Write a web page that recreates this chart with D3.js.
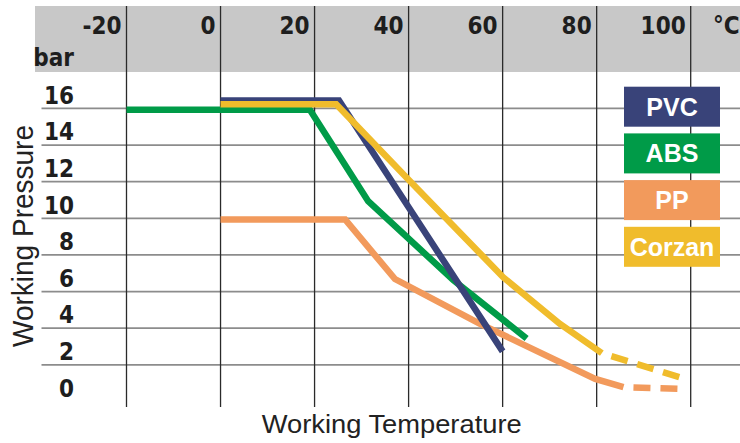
<!DOCTYPE html>
<html>
<head>
<meta charset="utf-8">
<script src="https://cdn.jsdelivr.net/npm/d3@7"></script>
<style>
  body { margin: 0; background: #fff; }
</style>
</head>
<body>
<div id="chart"></div>
<script>
// tick values
const tempTicks = [-20, 0, 20, 40, 60, 80, 100];
const pressureTicks = [0, 2, 4, 6, 8, 10, 12, 14, 16];
const gridPressure = [2, 4, 6, 8, 10, 12, 14, 16];

// series (temperature in °C, pressure in bar)
const pvcTemp = [0, 25.2, 60];
const pvcBar = [15.7, 15.7, 2.0];
const absTemp = [-20, 19, 31.4, 49.5, 65.1];
const absBar = [15.2, 15.2, 10.2, 5.9, 2.7];
const ppTemp = [0, 26.5, 37.1, 55.2, 79.7, 85.7];
const ppBar = [9.2, 9.2, 5.95, 3.5, 0.5, 0.05];
const ppDashTemp = [85.7, 97.8];
const ppDashBar = [0.05, -0.05];
const corzanTemp = [0, 24.6, 40.1, 60.1, 72.2, 81.1];
const corzanBar = [15.5, 15.5, 11.35, 6.05, 3.5, 1.9];
const corzanDashTemp = [81.1, 98.1];
const corzanDashBar = [1.9, 0.55];

const legendNames = ["PVC", "ABS", "PP", "Corzan"];
const colors = { PVC: "#394379", ABS: "#009b48", PP: "#f29a5c", Corzan: "#f0bc2c" };

const W = 740, H = 443;
const svg = d3.select("#chart").append("svg")
    .attr("width", W).attr("height", H);

const x = d3.scaleLinear().domain([-20, 100]).range([126.5, 690.7]);
const y = d3.scaleLinear().domain([0, 16]).range([388, 95]);
const gridShift = 13.4;   // grid lines sit below each label

// grey header band
svg.append("rect")
    .attr("x", 35).attr("y", 6)
    .attr("width", W - 35).attr("height", 66)
    .attr("fill", "#c8c8c8");

// horizontal grid
svg.append("g").selectAll("line")
    .data(gridPressure)
    .join("line")
    .attr("x1", 41.5).attr("x2", W)
    .attr("y1", d => y(d) + gridShift)
    .attr("y2", d => y(d) + gridShift)
    .attr("stroke", "#8c8c8c")
    .attr("stroke-width", 1.8);

// vertical grid
svg.append("g").selectAll("line")
    .data(tempTicks)
    .join("line")
    .attr("x1", d => x(d)).attr("x2", d => x(d))
    .attr("y1", 6).attr("y2", 407)
    .attr("stroke", "#2a2a2a")
    .attr("stroke-width", 1.3);

const tickFont = "DejaVu Sans Condensed, DejaVu Sans, sans-serif";

function tickStyle(sel) {
    sel.style("font-family", tickFont)
        .style("font-size", "24px")
        .style("font-weight", "bold")
        .style("fill", "#1e1e1e");
}

// x tick labels (right of label touches the line)
svg.append("g").selectAll("text")
    .data(tempTicks)
    .join("text")
    .attr("x", d => x(d) - 5)
    .attr("y", 34)
    .attr("text-anchor", "end")
    .call(tickStyle)
    .text(d => d);

svg.append("text")
    .attr("x", 713).attr("y", 34)
    .call(tickStyle)
    .text("°C");

svg.append("text")
    .attr("x", 74).attr("y", 66)
    .attr("text-anchor", "end")
    .call(tickStyle)
    .text("bar");

// y tick labels
svg.append("g").selectAll("text")
    .data(pressureTicks)
    .join("text")
    .attr("x", 74)
    .attr("y", d => y(d))
    .attr("dy", "0.36em")
    .attr("text-anchor", "end")
    .call(tickStyle)
    .text(d => d);

// axis titles
svg.append("text")
    .attr("transform", "translate(33,236) rotate(-90)")
    .attr("text-anchor", "middle")
    .attr("textLength", 222)
    .attr("lengthAdjust", "spacingAndGlyphs")
    .style("font-family", "Liberation Sans, Arial, sans-serif")
    .style("font-size", "29px")
    .style("fill", "#222")
    .text("Working Pressure");

svg.append("text")
    .attr("x", 391.7).attr("y", 433)
    .attr("text-anchor", "middle")
    .attr("textLength", 260)
    .attr("lengthAdjust", "spacingAndGlyphs")
    .style("font-family", "Liberation Sans, Arial, sans-serif")
    .style("font-size", "25px")
    .style("fill", "#222")
    .text("Working Temperature");

// lines
const line = d3.line()
    .x(d => x(d[0]))
    .y(d => y(d[1]));

const zip = (a, b) => a.map((v, i) => [v, b[i]]);

const solid = [
    { key: "PP", pts: zip(ppTemp, ppBar) },
    { key: "ABS", pts: zip(absTemp, absBar) },
    { key: "PVC", pts: zip(pvcTemp, pvcBar) },
    { key: "Corzan", pts: zip(corzanTemp, corzanBar) }
];
const dashed = [
    { key: "PP", pts: zip(ppDashTemp, ppDashBar) },
    { key: "Corzan", pts: zip(corzanDashTemp, corzanDashBar) }
];

svg.append("g").selectAll("path")
    .data(dashed)
    .join("path")
    .attr("d", d => line(d.pts))
    .attr("fill", "none")
    .attr("stroke", d => colors[d.key])
    .attr("stroke-width", 6.5)
    .attr("stroke-dasharray", "17,10")
    .attr("stroke-dashoffset", 17);

svg.append("g").selectAll("path")
    .data(solid)
    .join("path")
    .attr("d", d => line(d.pts))
    .attr("fill", "none")
    .attr("stroke", d => colors[d.key])
    .attr("stroke-width", 6.5)
    .attr("stroke-linejoin", "miter");

// legend boxes
const legend = svg.append("g").selectAll("g")
    .data(legendNames)
    .join("g")
    .attr("transform", (d, i) => `translate(624, ${86.7 + i * 46.7})`);

legend.append("rect")
    .attr("width", 96).attr("height", 40)
    .attr("fill", d => colors[d]);

legend.append("text")
    .attr("x", 48).attr("y", 20)
    .attr("dy", "0.36em")
    .attr("text-anchor", "middle")
    .style("font-family", "Liberation Sans, Arial, sans-serif")
    .style("font-weight", "bold")
    .style("font-size", "25px")
    .style("fill", "#fff")
    .text(d => d);
</script>
</body>
</html>
